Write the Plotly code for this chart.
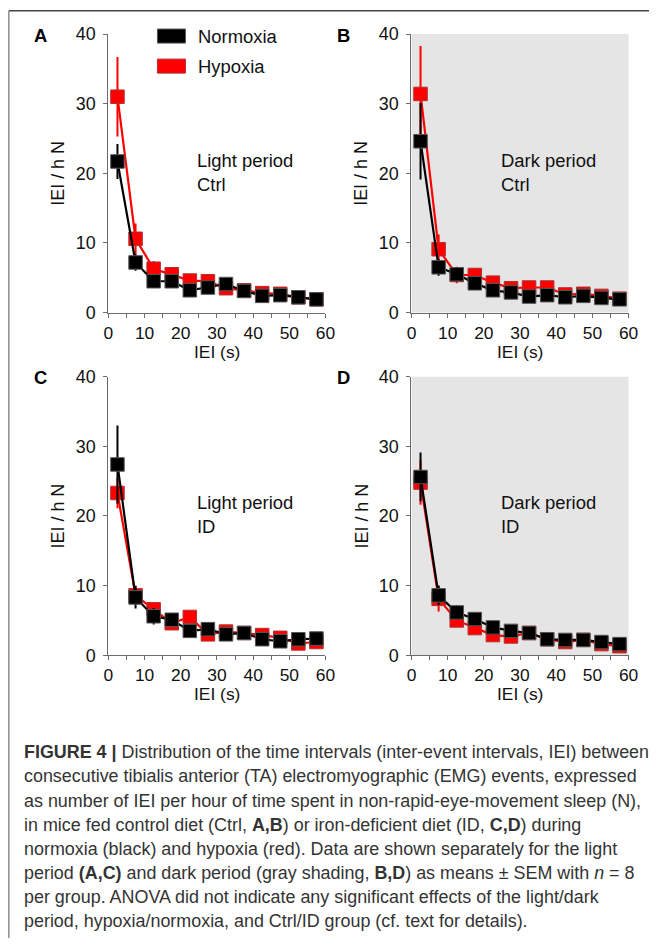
import plotly.graph_objects as go

# ---------------- data ----------------
iei_bins = [2.5, 7.5, 12.5, 17.5, 22.5, 27.5, 32.5, 37.5, 42.5, 47.5, 52.5, 57.5]

# Panel A: Light period, Ctrl
a_norm = [21.7, 7.2, 4.5, 4.5, 3.2, 3.6, 4.1, 3.1, 2.4, 2.5, 2.2, 1.9]
a_norm_sem = [2.5, 1.2, 0.5, 0.5, 0.4, 0.4, 0.8, 0.4, 0.3, 0.3, 0.3, 0.2]
a_hyp = [31.0, 10.6, 6.3, 5.5, 4.6, 4.5, 3.5, 3.2, 2.8, 2.7, 2.2, 1.9]
a_hyp_sem = [5.7, 2.2, 1.1, 0.5, 0.4, 0.4, 0.4, 0.3, 0.3, 0.3, 0.3, 0.2]

# Panel B: Dark period, Ctrl
b_norm = [24.6, 6.5, 5.5, 4.2, 3.2, 2.9, 2.3, 2.5, 2.2, 2.4, 2.1, 1.9]
b_norm_sem = [5.5, 1.2, 1.0, 0.8, 0.6, 0.5, 0.3, 0.3, 0.3, 0.3, 0.3, 0.2]
b_hyp = [31.4, 9.1, 5.4, 5.4, 4.3, 3.5, 3.6, 3.6, 2.6, 2.7, 2.4, 2.0]
b_hyp_sem = [6.9, 2.1, 1.2, 0.5, 0.4, 0.4, 0.4, 0.4, 0.3, 0.3, 0.3, 0.2]

# Panel C: Light period, ID
c_norm = [27.4, 8.3, 5.6, 5.1, 3.5, 3.75, 3.0, 3.2, 2.3, 2.0, 2.3, 2.4]
c_norm_sem = [5.6, 1.6, 1.2, 0.6, 0.4, 0.4, 0.4, 0.4, 0.3, 0.3, 0.3, 0.3]
c_hyp = [23.3, 8.6, 6.6, 4.6, 5.5, 3.0, 3.4, 3.2, 2.9, 2.5, 1.7, 1.9]
c_hyp_sem = [2.2, 1.4, 0.8, 0.8, 0.4, 0.4, 0.3, 0.3, 0.3, 0.3, 0.2, 0.2]

# Panel D: Dark period, ID
d_norm = [25.6, 8.6, 6.15, 5.2, 4.0, 3.5, 3.2, 2.3, 2.2, 2.2, 1.9, 1.6]
d_norm_sem = [3.5, 1.4, 1.0, 0.8, 0.5, 0.4, 0.3, 0.3, 0.3, 0.3, 0.3, 0.2]
d_hyp = [24.8, 8.1, 5.0, 3.9, 2.9, 2.7, 3.2, 2.3, 1.9, 2.2, 1.6, 1.3]
d_hyp_sem = [3.2, 1.8, 0.8, 0.7, 0.4, 0.3, 0.3, 0.3, 0.3, 0.3, 0.3, 0.2]

panel_letters = ["A", "B", "C", "D"]
panel_notes = ["Light period<br>Ctrl", "Dark period<br>Ctrl", "Light period<br>ID", "Dark period<br>ID"]
series_names = ["Normoxia", "Hypoxia"]
x_ticks = [0, 10, 20, 30, 40, 50, 60]
y_ticks = [0, 10, 20, 30, 40]
x_title = "IEI (s)"
y_title = "IEI / h N"

caption_lines = [
    "<b>FIGURE 4 |</b> Distribution of the time intervals (inter-event intervals, IEI) between",
    "consecutive tibialis anterior (TA) electromyographic (EMG) events, expressed",
    "as number of IEI per hour of time spent in non-rapid-eye-movement sleep (N),",
    "in mice fed control diet (Ctrl, <b>A,B</b>) or iron-deficient diet (ID, <b>C,D</b>) during",
    "normoxia (black) and hypoxia (red). Data are shown separately for the light",
    "period <b>(A,C)</b> and dark period (gray shading, <b>B,D</b>) as means ± SEM with <i>n</i> = 8",
    "per group. ANOVA did not indicate any significant effects of the light/dark",
    "period, hypoxia/normoxia, and Ctrl/ID group (cf. text for details).",
]

# ---------------- layout helpers ----------------
# Figure fills the page (body margin removed in post_script).
# Target positions are given in picture pixels; the capture maps page -> picture
# with a small scale/offset, which is inverted here.
W, H = 659, 948
S = 0.977
OX, OY = 4.6, 9.0
def px(x):
    return ((x - OX) / S) / W
def py(y):
    return 1 - ((y - OY) / S) / H
def fs(v):
    return round(v / S, 2)

FONT = "Liberation Sans, Arial, sans-serif"
BLACK = "#000000"
RED = "#ff0000"
GRAYBG = "#e5e5e5"
AXIS = "#6b6b6b"
TXT = "#111111"

panels = [
    dict(norm=a_norm, norm_sem=a_norm_sem, hyp=a_hyp, hyp_sem=a_hyp_sem, dark=False),
    dict(norm=b_norm, norm_sem=b_norm_sem, hyp=b_hyp, hyp_sem=b_hyp_sem, dark=True),
    dict(norm=c_norm, norm_sem=c_norm_sem, hyp=c_hyp, hyp_sem=c_hyp_sem, dark=False),
    dict(norm=d_norm, norm_sem=d_norm_sem, hyp=d_hyp, hyp_sem=d_hyp_sem, dark=True),
]
# picture-pixel geometry of plot areas: (left, right, top, bottom)
geom = [
    (108, 325, 33, 311),
    (411, 628, 33, 311),
    (108, 325, 375, 653),
    (411, 628, 375, 653),
]

fig = go.Figure()
layout_axes = {}
shapes = []
annotations = []

for i, (p, g) in enumerate(zip(panels, geom)):
    n = i + 1
    xa = "x" if n == 1 else f"x{n}"
    ya = "y" if n == 1 else f"y{n}"
    xkey = "xaxis" if n == 1 else f"xaxis{n}"
    ykey = "yaxis" if n == 1 else f"yaxis{n}"
    l, r, t, b = g
    layout_axes[xkey] = dict(
        domain=[px(l), px(r)], anchor=ya, range=[0, 60], tickvals=x_ticks,
        ticks="outside", ticklen=4, tickwidth=1, tickcolor=AXIS, ticklabelstandoff=0,
        minor=dict(dtick=5, tick0=0, ticks="outside", ticklen=4, tickwidth=1, tickcolor=AXIS),
        showline=True, linecolor=AXIS, linewidth=1.3, showgrid=False, zeroline=False,
        tickfont=dict(family=FONT, size=fs(17), color=TXT), fixedrange=True,
    )
    layout_axes[ykey] = dict(
        domain=[py(b), py(t)], anchor=xa, range=[0, 40], tickvals=y_ticks,
        ticks="outside", ticklen=4, tickwidth=1, tickcolor=AXIS, ticklabelstandoff=4,
        showline=True, linecolor=AXIS, linewidth=1.3, showgrid=False, zeroline=False,
        tickfont=dict(family=FONT, size=fs(17.5), color=TXT), fixedrange=True,
    )
    if p["dark"]:
        shapes.append(dict(type="rect", xref=f"{xa} domain", yref=f"{ya} domain",
                           x0=0, x1=1, y0=0, y1=1, fillcolor=GRAYBG, line=dict(width=0), layer="below"))
    for name, key, col, edge in [("Hypoxia", "hyp", RED, "#b03030"), ("Normoxia", "norm", BLACK, "#555555")]:
        fig.add_trace(go.Scatter(
            x=iei_bins, y=p[key], xaxis=xa, yaxis=ya, mode="lines+markers", name=name,
            showlegend=False,
            line=dict(color=col, width=2.2),
            marker=dict(symbol="square", size=13.5, color=col, line=dict(color=edge, width=1)),
            error_y=dict(type="data", array=p[key + "_sem"], visible=True, color=col, thickness=2, width=0),
        ))
    # panel letter
    lx = 40 if i % 2 == 0 else 343
    annotations.append(dict(text=f"<b>{panel_letters[i]}</b>", x=px(lx), y=py(t + 1), xref="paper", yref="paper",
                            xanchor="center", yanchor="middle", showarrow=False,
                            font=dict(family=FONT, size=fs(18), color="#000")))
    # note
    nx = l + 87
    annotations.append(dict(text=panel_notes[i], x=px(nx), y=py(t + 138), xref="paper", yref="paper",
                            xanchor="left", yanchor="middle", align="left", showarrow=False,
                            font=dict(family=FONT, size=fs(18), color=TXT)))
    # axis titles
    annotations.append(dict(text=x_title, x=px((l + r) / 2), y=py(b + 39), xref="paper", yref="paper",
                            xanchor="center", yanchor="middle", showarrow=False, borderpad=0,
                            font=dict(family=FONT, size=fs(17), color=TXT)))
    annotations.append(dict(text=y_title, x=px(l - 50), y=py((t + b) / 2), xref="paper", yref="paper",
                            xanchor="center", yanchor="middle", textangle=-90, showarrow=False,
                            font=dict(family=FONT, size=fs(17.5), color=TXT)))

# legend (drawn manually)
leg = [(series_names[0], BLACK, "#555555", 35), (series_names[1], RED, "#b03030", 65)]
for name, col, edge, yc in leg:
    shapes.append(dict(type="rect", xref="paper", yref="paper", x0=px(157), x1=px(185),
                       y0=py(yc + 7), y1=py(yc - 7), fillcolor=col, line=dict(color=edge, width=1)))
    annotations.append(dict(text=name, x=px(196), y=py(yc), xref="paper", yref="paper",
                            xanchor="left", yanchor="middle", showarrow=False,
                            font=dict(family=FONT, size=fs(18), color=TXT)))

# frame lines (top one kept inside the page)
top_y = min(py(8.8), 1 - 0.8 / H)
shapes.append(dict(type="line", xref="paper", yref="paper", x0=px(8.5), x1=1, y0=top_y, y1=top_y,
                   line=dict(color="#444444", width=1.5)))
shapes.append(dict(type="line", xref="paper", yref="paper", x0=px(8.5), x1=px(8.5), y0=top_y, y1=0,
                   line=dict(color="#555555", width=1)))

# caption
for k, line in enumerate(caption_lines):
    annotations.append(dict(text=line, x=px(22), y=py(750 + 24 * k), xref="paper", yref="paper",
                            xanchor="left", yanchor="middle", showarrow=False,
                            font=dict(family=FONT, size=fs(17.5), color="#333333")))

fig.update_layout(
    width=W, height=H, margin=dict(l=0, r=0, t=0, b=0),
    paper_bgcolor="white", plot_bgcolor="rgba(0,0,0,0)",
    showlegend=False, shapes=shapes, annotations=annotations,
    **layout_axes,
)

fig.write_html("out.html", config={"displayModeBar": False},
               post_script="document.body.style.margin='0';document.body.style.overflow='hidden';")
